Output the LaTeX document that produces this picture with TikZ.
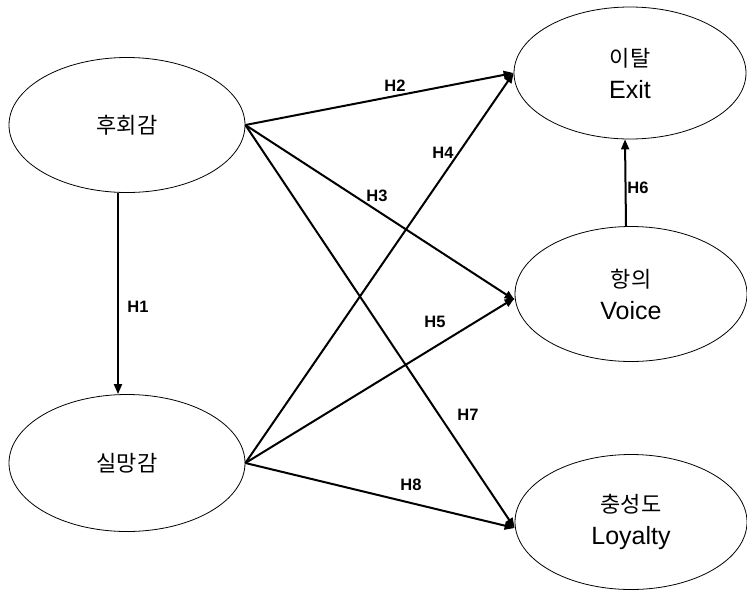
\documentclass[tikz,border=0pt]{standalone}
\usepackage{fontspec}
\setmainfont{Noto Sans CJK KR}
\newfontfamily\lblfont{Liberation Sans}
\newcommand{\lat}[1]{{\lblfont\fontsize{25}{32}\selectfont #1}}
\usetikzlibrary{shapes.geometric,arrows.meta}
\begin{document}
\begin{tikzpicture}[x=1pt,y=-1pt,
  construct/.style={draw,line width=0.8pt,ellipse,inner sep=0pt,minimum width=236pt,minimum height=135pt,align=center,font=\fontsize{22}{32}\selectfont},
  path/.style={line width=2pt,-{Triangle[length=10pt,width=8pt]}},
  hlabel/.style={font=\lblfont\bfseries\fontsize{16.5}{18}\selectfont,inner sep=0pt}]
\useasboundingbox (0,0) rectangle (747,590);
\node[construct] (h) at (127,125) {후회감};
\node[construct,minimum height=137pt] (s) at (127,463) {실망감};
\node[construct,minimum width=232pt,minimum height=132pt] (e) at (630,73) {이탈\\\lat{Exit}};
\node[construct,minimum width=232pt] (v) at (631,294) {항의\\\lat{Voice}};
\node[construct,minimum width=232pt] (l) at (631,522) {충성도\\\lat{Loyalty}};
\draw[path] ([xshift=-9pt]h.south) -- ([xshift=-9pt]s.north);
\draw[path] (h.east) -- (e.west);
\draw[path] (h.east) -- ([yshift=-6pt]v.west);
\draw[path] (h.east) -- ([yshift=-6pt]l.west);
\draw[path] (s.east) -- (e.west);
\draw[path] (s.east) -- ([yshift=-4pt]v.west);
\draw[path] (s.east) -- ([yshift=-6pt]l.west);
\draw[path] ([xshift=-5pt]v.north) -- ([xshift=-5pt]e.south);
\node[hlabel] (l1) at (138,307) {H1};
\node[hlabel] (l2) at (395,86) {H2};
\node[hlabel] (l3) at (377,196) {H3};
\node[hlabel] (l4) at (443,153) {H4};
\node[hlabel] (l5) at (435,322) {H5};
\node[hlabel] (l6) at (638,188) {H6};
\node[hlabel] (l7) at (468,415) {H7};
\node[hlabel] (l8) at (411,485) {H8};
\end{tikzpicture}
\end{document}
